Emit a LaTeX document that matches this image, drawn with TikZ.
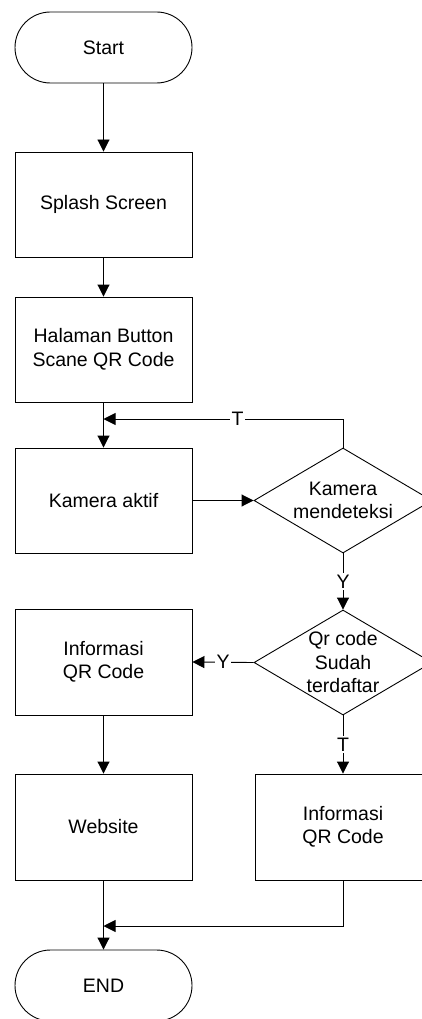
\documentclass[tikz,border=0pt]{standalone}
\usepackage{fontspec}
\setmainfont{Liberation Sans}
\usetikzlibrary{shapes.geometric,shapes.misc,arrows.meta}
\begin{document}
\begin{tikzpicture}[x=1pt,y=-1pt,
  fnt/.style={font=\fontsize{19.5}{23.5}\selectfont},
  base/.style={draw=black, line width=0.9pt, align=center, fnt, inner sep=0pt},
  term/.style={base, rounded rectangle, minimum width=177pt, minimum height=71pt},
  proc/.style={base, rectangle, minimum width=177pt, minimum height=106pt},
  decision/.style={base, diamond, minimum width=178pt, minimum height=105pt},
  txt/.style={align=center, fnt, inner sep=0pt},
  conn/.style={draw=black, line width=0.9pt},
  arr/.style={conn, -{Triangle[length=12pt,width=12pt]}},
  lab/.style={fill=white, inner sep=1.5pt, fnt}]
\path[use as bounding box, clip] (0,0) rectangle (422,1019);
\node[term] (start) at (103.5,47.5) {Start};
\node[proc, minimum height=105pt] (splash) at (103.5,204.5) {Splash Screen};
\node[proc, minimum height=105pt] (halaman) at (103.5,349.5) {Halaman Button\\Scane QR Code};
\node[proc, minimum height=105pt] (kamera) at (103.5,500.5) {Kamera aktif};
\node[decision] (d1) at (343,500.5) {};
\node[txt] at (d1) {Kamera\\mendeteksi};
\node[decision] (d2) at (343,662.5) {};
\node[txt] at (d2) {Qr code\\Sudah\\terdaftar};
\node[proc] (info1) at (103.5,662) {Informasi\\QR Code};
\node[proc] (web) at (103.5,827) {Website};
\node[proc, minimum width=176pt] (info2) at (343,827) {Informasi\\QR Code};
\node[term] (end) at (103.5,985.5) {END};
\coordinate (j1) at (103.5,419);
\coordinate (j2) at (103.5,926);

\draw[arr] (start.south) -- (splash.north);
\draw[arr] (splash.south) -- (halaman.north);
\draw[arr] (halaman.south) -- (kamera.north);
\draw[arr] (d1.north) |- node[lab, pos=0.72] {T} (j1);
\draw[arr] (kamera.east) -- (d1.west);
\draw[arr] (d1.south) -- node[lab] {Y} (d2.north);
\draw[arr] (d2.west) -- node[lab] {Y} (info1.east);
\draw[arr] (d2.south) -- node[lab] {T} (info2.north);
\draw[arr] (info1.south) -- (web.north);
\draw[arr] (web.south) -- (end.north);
\draw[arr] (info2.south) |- (j2);
\end{tikzpicture}
\end{document}
